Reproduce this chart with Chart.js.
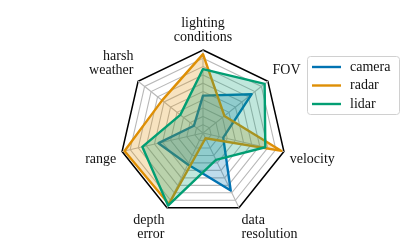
<html>
  <head>
    <title>Sensor Radar</title>
    <script src="https://cdn.jsdelivr.net/npm/chart.js"></script>
    <style>
      body { margin: 0; background: #fff; }
      #wrap { width: 407px; height: 252px; }
    </style>
  </head>
  <body>
    <div id="wrap">
      <canvas id="radarChart" width="407" height="252"></canvas>
    </div>

    <script>
      // axes, clockwise from the top
      const axisLabels = [['lighting', 'conditions'], 'FOV', 'velocity', ['data', 'resolution'], ['depth', 'error'], 'range', ['harsh', 'weather']];

      const seriesNames = ['camera', 'radar', 'lidar'];
      const camera = [0.45, 0.75, 0.25, 0.77, 0.42, 0.55, 0.14];
      const radar = [0.95, 0.33, 0.97, 0.07, 0.95, 0.97, 0.63];
      const lidar = [0.77, 0.95, 0.77, 0.36, 0.97, 0.75, 0.35];

      const ringTicks = [0, 0.1, 0.2, 0.3, 0.4, 0.5, 0.6, 0.7, 0.8, 0.9, 1.0];

      const colors = ['#0173b2', '#de8f05', '#029e73'];
      const fills = ['rgba(1,115,178,0.25)', 'rgba(222,143,5,0.25)', 'rgba(2,158,115,0.25)'];
      const serif = "'Liberation Serif', 'DejaVu Serif', serif";

      // legend box drawn on the canvas, top right
      const boxLegend = {
        id: 'boxLegend',
        afterDraw(chart) {
          const c = chart.ctx;
          const x = 307, y = 56, w = 92, h = 58;
          c.save();
          c.fillStyle = 'rgba(255,255,255,0.8)';
          c.strokeStyle = '#d0d0d0';
          c.lineWidth = 1;
          c.beginPath();
          c.roundRect(x + 0.5, y + 0.5, w, h, 3);
          c.fill();
          c.stroke();
          chart.data.datasets.forEach((ds, i) => {
            const ry = y + 11 + i * 18.5;
            c.strokeStyle = ds.borderColor;
            c.lineWidth = 2.4;
            c.beginPath();
            c.moveTo(x + 5, ry);
            c.lineTo(x + 34, ry);
            c.stroke();
            c.fillStyle = '#111';
            c.font = '14px ' + serif;
            c.textBaseline = 'middle';
            c.fillText(ds.label, x + 43, ry);
          });
          c.restore();
        }
      };

      const ctx = document.getElementById('radarChart');

      new Chart(ctx, {
        type: 'radar',
        data: {
          labels: axisLabels,
          datasets: [camera, radar, lidar].map((vals, i) => ({
            label: seriesNames[i],
            data: vals,
            borderColor: colors[i],
            backgroundColor: fills[i],
            borderWidth: 2.4,
            borderJoinStyle: 'round',
            fill: true,
            pointRadius: 0,
            order: 2 - i
          }))
        },
        options: {
          responsive: false,
          animation: false,
          layout: { padding: { top: 11, bottom: 6, left: 74, right: 60 } },
          plugins: {
            legend: { display: false },
            tooltip: { enabled: false }
          },
          scales: {
            r: {
              min: 0,
              max: 1,
              afterBuildTicks: (scale) => {
                scale.ticks = ringTicks.map(v => ({ value: v }));
              },
              ticks: { display: false },
              grid: {
                color: (c) => c.index === ringTicks.length - 1 ? '#000' : '#b8b8b8',
                lineWidth: (c) => c.index === ringTicks.length - 1 ? 1.5 : 1.1
              },
              angleLines: { color: '#b8b8b8', lineWidth: 1.1 },
              pointLabels: {
                color: '#111',
                padding: 6,
                font: { family: serif, size: 14, lineHeight: 1.0 }
              }
            }
          }
        },
        plugins: [boxLegend]
      });
    </script>
  </body>
</html>
